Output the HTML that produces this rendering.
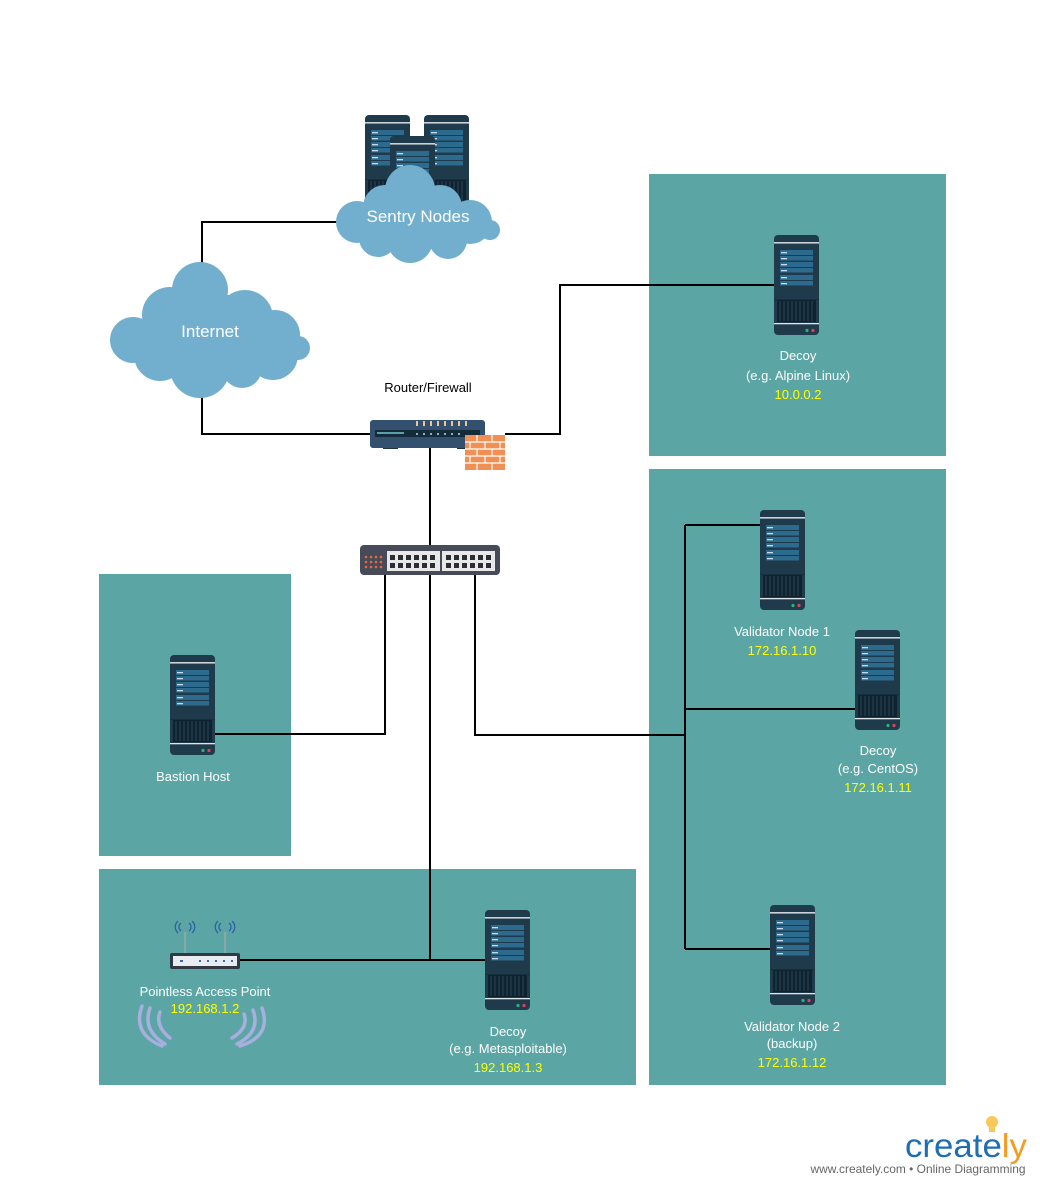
<!DOCTYPE html>
<html><head><meta charset="utf-8"><style>
body{margin:0;background:#fff;}
svg{display:block;font-family:"Liberation Sans",sans-serif;}
</style></head><body>
<svg width="1040" height="1185" viewBox="0 0 1040 1185" xmlns="http://www.w3.org/2000/svg">
<defs>
<g id="srv">
<rect x="0" y="0" width="45" height="100" rx="4" fill="#1f3a4b"/>
<rect x="0" y="7" width="45" height="1.6" fill="#c9d3d8"/>
<g fill="#2c6a8e">
<rect x="6" y="15" width="33" height="5"/><rect x="6" y="21" width="33" height="4.5"/>
<rect x="6" y="27" width="33" height="5"/><rect x="6" y="33" width="33" height="4.5"/>
<rect x="6" y="40" width="33" height="5"/><rect x="6" y="46" width="33" height="4.5"/>
</g>
<g fill="#c9dbe6">
<rect x="7" y="17" width="6" height="1.3"/><rect x="7" y="23" width="6" height="1.3"/>
<rect x="7" y="29" width="6" height="1.3"/><rect x="7" y="35" width="6" height="1.3"/>
<rect x="7" y="42" width="6" height="1.3"/><rect x="7" y="48" width="6" height="1.3"/>
</g>
<rect x="0" y="64" width="45" height="1" fill="#163040"/>
<rect x="3" y="65" width="39" height="22" fill="#0f2230"/>
<g stroke="#2a4556" stroke-width="1">
<line x1="6" y1="66" x2="6" y2="86"/><line x1="10" y1="66" x2="10" y2="86"/><line x1="14" y1="66" x2="14" y2="86"/><line x1="18" y1="66" x2="18" y2="86"/><line x1="22" y1="66" x2="22" y2="86"/><line x1="26" y1="66" x2="26" y2="86"/><line x1="30" y1="66" x2="30" y2="86"/><line x1="34" y1="66" x2="34" y2="86"/><line x1="38" y1="66" x2="38" y2="86"/>
</g>
<rect x="0" y="88" width="45" height="1.3" fill="#dfe6ea"/>
<circle cx="33" cy="95.5" r="1.6" fill="#2bb37a"/><circle cx="39" cy="95.5" r="1.6" fill="#e0405a"/>
</g>
</defs>

<g fill="#5ba5a5">
<rect x="649" y="174" width="297" height="282"/>
<rect x="649" y="469" width="297" height="616"/>
<rect x="99" y="574" width="192" height="282"/>
<rect x="99" y="869" width="537" height="216"/>
</g>

<g stroke="#000" stroke-width="2" fill="none">
<polyline points="338,222 202,222 202,264"/>
<polyline points="202,396 202,434 372,434"/>
<polyline points="505,434 560,434 560,285 776,285"/>
<line x1="430" y1="447" x2="430" y2="546"/>
<polyline points="385,575 385,734 212,734"/>
<line x1="430" y1="575" x2="430" y2="960"/>
<polyline points="238,960 487,960"/>
<polyline points="475,575 475,735 685,735"/>
<line x1="685" y1="525" x2="685" y2="949"/>
<line x1="685" y1="525" x2="762" y2="525"/>
<line x1="685" y1="709" x2="857" y2="709"/>
<line x1="685" y1="949" x2="772" y2="949"/>
</g>

<use href="#srv" x="365" y="115"/>
<use href="#srv" x="424" y="115"/>
<use href="#srv" x="390" y="136"/>
<g fill="#72aecd">
<circle cx="410" cy="190" r="25"/><circle cx="385" cy="207" r="22"/><circle cx="440" cy="207" r="22"/>
<circle cx="357" cy="222" r="21"/><circle cx="470" cy="222" r="22"/><circle cx="490" cy="230" r="10"/>
<circle cx="410" cy="240" r="23"/><circle cx="378" cy="238" r="19"/><circle cx="448" cy="240" r="19"/>
<rect x="370" y="210" width="100" height="32"/>
</g>
<text x="418" y="222" font-size="17" fill="#fff" text-anchor="middle">Sentry Nodes</text>

<g fill="#72aecd">
<circle cx="200" cy="290" r="28"/><circle cx="170" cy="315" r="28"/><circle cx="245" cy="318" r="28"/>
<circle cx="133" cy="340" r="23"/><circle cx="275" cy="335" r="25"/><circle cx="298" cy="348" r="12"/>
<circle cx="200" cy="368" r="30"/><circle cx="160" cy="355" r="26"/><circle cx="242" cy="368" r="20"/><circle cx="273" cy="355" r="25"/>
<rect x="150" y="320" width="128" height="42"/>
<rect x="175" y="295" width="80" height="40"/>
</g>
<text x="210" y="337" font-size="17" fill="#fff" text-anchor="middle">Internet</text>

<text x="428" y="392" font-size="13" fill="#000" text-anchor="middle">Router/Firewall</text>
<rect x="383" y="445" width="15" height="4" fill="#1f3347"/>
<rect x="457" y="445" width="15" height="4" fill="#1f3347"/>
<rect x="370" y="420" width="115" height="28" rx="3" fill="#33516f"/>
<rect x="375" y="430" width="105" height="7" fill="#142b3a"/>
<rect x="377" y="432" width="27" height="2" fill="#5a9fae"/>
<g fill="#f0c48a"><rect x="416" y="421" width="2" height="5"/><rect x="423" y="421" width="2" height="5"/><rect x="430" y="421" width="2" height="5"/><rect x="437" y="421" width="2" height="5"/><rect x="444" y="421" width="2" height="5"/><rect x="451" y="421" width="2" height="5"/><rect x="458" y="421" width="2" height="5"/><rect x="465" y="421" width="2" height="5"/></g>
<g fill="#8fb0c4"><rect x="416" y="433" width="2" height="2"/><rect x="423" y="433" width="2" height="2"/><rect x="430" y="433" width="2" height="2"/><rect x="437" y="433" width="2" height="2"/><rect x="444" y="433" width="2" height="2"/><rect x="451" y="433" width="2" height="2"/><rect x="458" y="433" width="2" height="2"/></g>
<rect x="465" y="435" width="40" height="35" fill="#f09055"/>
<g stroke="#fff" stroke-width="1.2">
<line x1="465" y1="442" x2="505" y2="442"/><line x1="465" y1="449" x2="505" y2="449"/><line x1="465" y1="456" x2="505" y2="456"/><line x1="465" y1="463" x2="505" y2="463"/>
<line x1="477" y1="435" x2="477" y2="442"/><line x1="492" y1="435" x2="492" y2="442"/>
<line x1="470" y1="442" x2="470" y2="449"/><line x1="485" y1="442" x2="485" y2="449"/><line x1="500" y1="442" x2="500" y2="449"/>
<line x1="477" y1="449" x2="477" y2="456"/><line x1="492" y1="449" x2="492" y2="456"/>
<line x1="470" y1="456" x2="470" y2="463"/><line x1="485" y1="456" x2="485" y2="463"/><line x1="500" y1="456" x2="500" y2="463"/>
<line x1="477" y1="463" x2="477" y2="470"/><line x1="492" y1="463" x2="492" y2="470"/>
</g>

<rect x="360" y="545" width="140" height="30" rx="4" fill="#474a58"/>
<g fill="#e86a3a">
<circle cx="366" cy="557" r="1.3"/><circle cx="371" cy="557" r="1.3"/><circle cx="376" cy="557" r="1.3"/><circle cx="381" cy="557" r="1.3"/>
<circle cx="366" cy="562" r="1.3"/><circle cx="371" cy="562" r="1.3"/><circle cx="376" cy="562" r="1.3"/><circle cx="381" cy="562" r="1.3"/>
<circle cx="366" cy="567" r="1.3"/><circle cx="371" cy="567" r="1.3"/><circle cx="376" cy="567" r="1.3"/><circle cx="381" cy="567" r="1.3"/>
</g>
<rect x="387" y="551" width="53" height="20" fill="#e8e8e8"/>
<rect x="442" y="551" width="53" height="20" fill="#e8e8e8"/>
<g fill="#2c2c34">
<rect x="390" y="555" width="5" height="5"/><rect x="398" y="555" width="5" height="5"/><rect x="406" y="555" width="5" height="5"/><rect x="414" y="555" width="5" height="5"/><rect x="422" y="555" width="5" height="5"/><rect x="430" y="555" width="5" height="5"/>
<rect x="390" y="563" width="5" height="5"/><rect x="398" y="563" width="5" height="5"/><rect x="406" y="563" width="5" height="5"/><rect x="414" y="563" width="5" height="5"/><rect x="422" y="563" width="5" height="5"/><rect x="430" y="563" width="5" height="5"/>
<rect x="446" y="555" width="5" height="5"/><rect x="454" y="555" width="5" height="5"/><rect x="462" y="555" width="5" height="5"/><rect x="470" y="555" width="5" height="5"/><rect x="478" y="555" width="5" height="5"/><rect x="486" y="555" width="5" height="5"/>
<rect x="446" y="563" width="5" height="5"/><rect x="454" y="563" width="5" height="5"/><rect x="462" y="563" width="5" height="5"/><rect x="470" y="563" width="5" height="5"/><rect x="478" y="563" width="5" height="5"/><rect x="486" y="563" width="5" height="5"/>
</g>

<use href="#srv" x="774" y="235"/>
<use href="#srv" x="760" y="510"/>
<use href="#srv" x="855" y="630"/>
<use href="#srv" x="770" y="905"/>
<use href="#srv" x="170" y="655"/>
<use href="#srv" x="485" y="910"/>

<line x1="185" y1="932" x2="185" y2="953" stroke="#aaa" stroke-width="1.2"/>
<line x1="225" y1="932" x2="225" y2="953" stroke="#aaa" stroke-width="1.2"/>
<g stroke="#2f5fa8" stroke-width="1.3" fill="none">
<path d="M181,923 a5,5 0 0 0 0,8"/><path d="M189,923 a5,5 0 0 1 0,8"/>
<path d="M178,921 a8,8 0 0 0 0,12"/><path d="M192,921 a8,8 0 0 1 0,12"/>
<path d="M221,923 a5,5 0 0 0 0,8"/><path d="M229,923 a5,5 0 0 1 0,8"/>
<path d="M218,921 a8,8 0 0 0 0,12"/><path d="M232,921 a8,8 0 0 1 0,12"/>
</g>
<rect x="170" y="953" width="70" height="16" rx="2" fill="#2f3a44"/>
<rect x="173" y="956" width="64" height="10" fill="#e8ecf0"/>
<g fill="#3a6aa8"><rect x="180" y="960" width="3" height="2"/><rect x="199" y="960" width="2" height="2"/><rect x="207" y="960" width="2" height="2"/><rect x="215" y="960" width="2" height="2"/><rect x="223" y="960" width="2" height="2"/><rect x="231" y="960" width="2" height="2"/></g>
<g stroke="#a8aedd" stroke-width="3.5" fill="none" stroke-linecap="round">
<path d="M160,1012 q-5,14 10,26"/><path d="M150,1008 q-8,22 15,36"/><path d="M142,1006 q-10,28 20,40"/>
<path d="M244,1014 q5,14 -12,24"/><path d="M253,1010 q8,22 -16,34"/><path d="M262,1008 q10,28 -22,38"/>
</g>

<g font-size="13" text-anchor="middle">
<text x="798" y="360" fill="#fff">Decoy</text>
<text x="798" y="380" fill="#fff">(e.g. Alpine Linux)</text>
<text x="798" y="399" fill="#ffff00">10.0.0.2</text>
<text x="782" y="636" fill="#fff">Validator Node 1</text>
<text x="782" y="655" fill="#ffff00">172.16.1.10</text>
<text x="878" y="755" fill="#fff">Decoy</text>
<text x="878" y="773" fill="#fff">(e.g. CentOS)</text>
<text x="878" y="792" fill="#ffff00">172.16.1.11</text>
<text x="792" y="1031" fill="#fff">Validator Node 2</text>
<text x="792" y="1048" fill="#fff">(backup)</text>
<text x="792" y="1067" fill="#ffff00">172.16.1.12</text>
<text x="193" y="781" fill="#fff">Bastion Host</text>
<text x="205" y="996" fill="#fff">Pointless Access Point</text>
<text x="205" y="1013" fill="#ffff00">192.168.1.2</text>
<text x="508" y="1036" fill="#fff">Decoy</text>
<text x="508" y="1053" fill="#fff">(e.g. Metasploitable)</text>
<text x="508" y="1072" fill="#ffff00">192.168.1.3</text>
</g>

<circle cx="992" cy="1122" r="6" fill="#f6c95a"/>
<rect x="989" y="1127" width="6" height="5" fill="#f6c95a"/>
<text x="905" y="1157" font-size="33" fill="#1f6db3" textLength="122" lengthAdjust="spacingAndGlyphs">create<tspan fill="#f39b22">ly</tspan></text>
<text x="918" y="1173" font-size="12" fill="#666" text-anchor="middle" textLength="215" lengthAdjust="spacingAndGlyphs">www.creately.com • Online Diagramming</text>
</svg>
</body></html>
